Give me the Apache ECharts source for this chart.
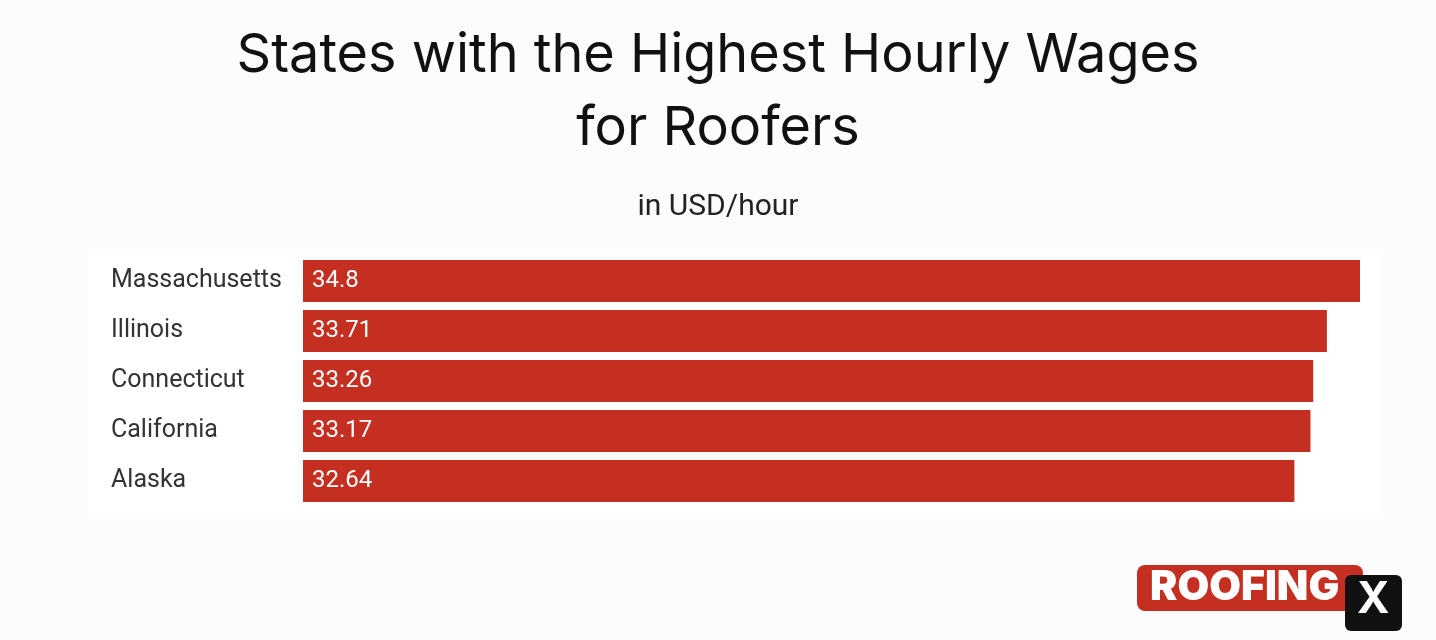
<!DOCTYPE html>
<html><head><meta charset="utf-8">
<script src="https://cdn.jsdelivr.net/npm/echarts@6/dist/echarts.min.js"></script>
<style>html,body{margin:0;padding:0;background:#fcfcfc}#c{width:1436px;height:640px}</style>
</head><body><div id="c"></div>
<script>
const categories = ["Massachusetts","Illinois","Connecticut","California","Alaska"];
const wages = [34.8,33.71,33.26,33.17,32.64];
const chart = echarts.init(document.getElementById('c'));
chart.setOption({
  backgroundColor:'#fcfcfc',
  title:[
    {text:'States with the Highest Hourly Wages\nfor Roofers',left:'center',top:14,
     textStyle:{fontFamily:'Inter',fontWeight:'normal',fontSize:54,lineHeight:73,color:'#111'}},
    {text:'in USD/hour',left:'center',top:187,textStyle:{fontFamily:'Roboto',fontWeight:'normal',fontSize:30,color:'#222'}}
  ],
  graphic:[
    {type:'rect',left:88,top:250,z:-1,shape:{width:1294,height:268},style:{fill:'#ffffff'}},
    {type:'rect',left:1137,top:565,shape:{width:226,height:46,r:8},style:{fill:'#c42f22'}},
    {type:'text',left:1150,top:567,style:{text:'ROOFING',fill:'#fff',font:'900 41px Inter'}},
    {type:'rect',left:1345,top:575,shape:{width:57,height:56,r:6},style:{fill:'#111'}},
    {type:'text',left:1357,top:578,style:{text:'X',fill:'#fff',font:'bold 44px Inter'}}
  ],
  grid:{left:303,right:76,top:256,bottom:134},
  xAxis:{type:'value',min:0,max:34.8,show:false},
  yAxis:{type:'category',data:categories,inverse:true,axisLine:{show:false},axisTick:{show:false},
    axisLabel:{align:'left',margin:192,fontFamily:'Roboto',fontSize:25,color:'#333'}},
  series:[{type:'bar',data:wages,barWidth:42,itemStyle:{color:'#c42f22'},
    label:{show:true,position:'insideLeft',distance:9,color:'#fff',fontFamily:'Roboto',fontSize:24}}]
});
</script></body></html>
